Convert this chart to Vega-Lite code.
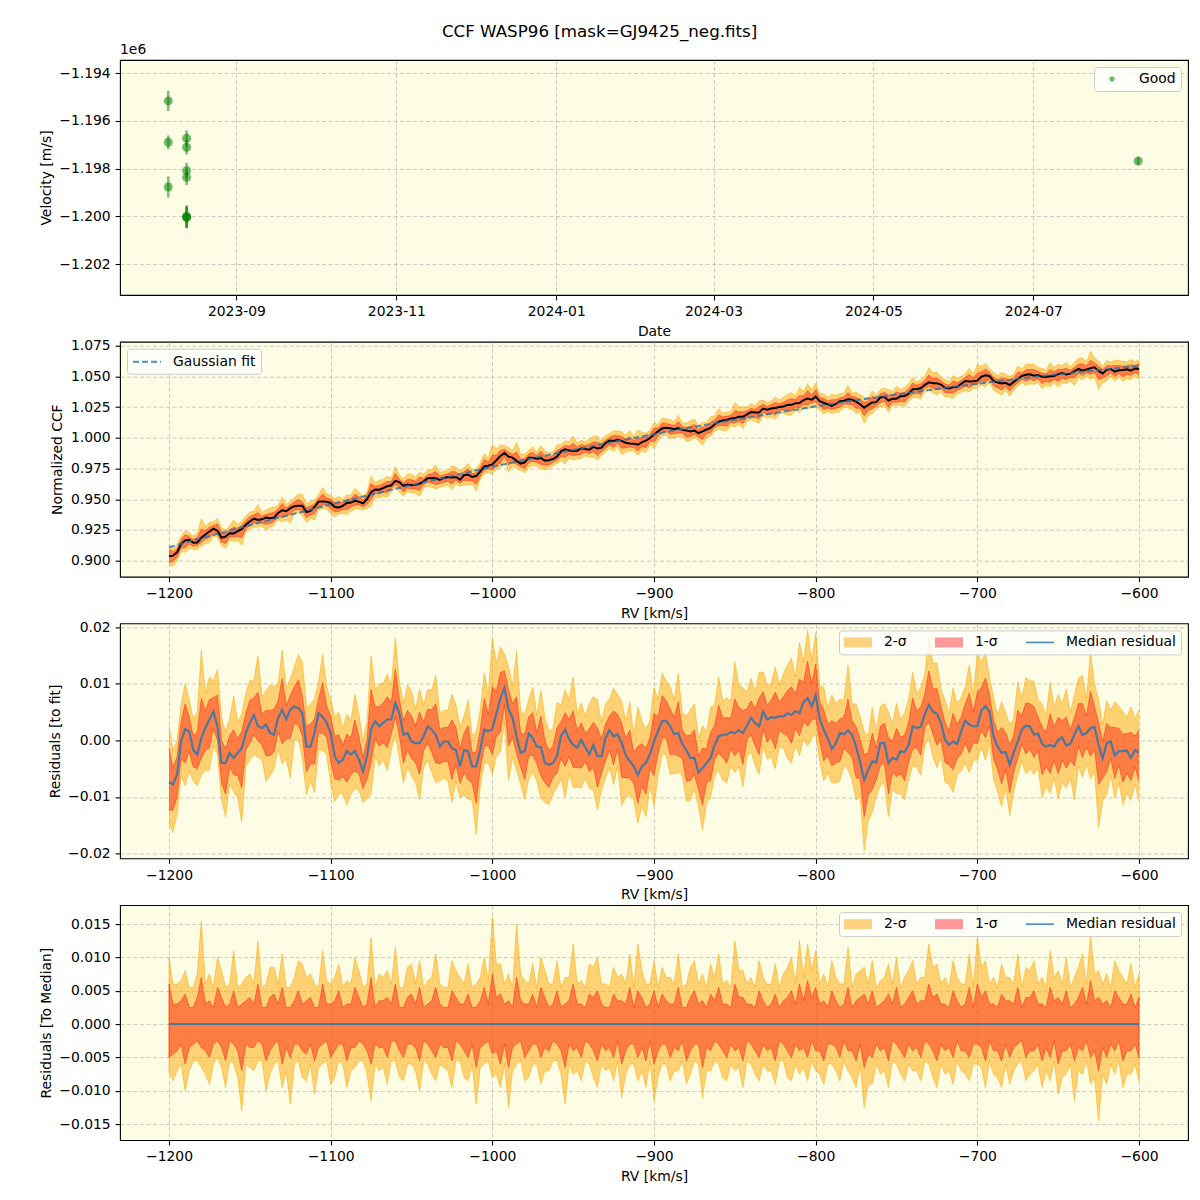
{
"$schema":"https://vega.github.io/schema/vega-lite/v6.json",
"padding":{"left":38,"top":23,"right":5,"bottom":5},
"background":"white",
"title":{"text":"CCF WASP96 [mask=GJ9425_neg.fits]","fontSize":16.7,"fontWeight":"normal","font":"DejaVu Sans","color":"black","anchor":"middle","offset":2,"dx":-14},
"bounds":"flush",
"spacing":46.7,
"resolve":{"scale":{"color":"independent","fill":"independent","shape":"independent"},"legend":{"color":"independent","fill":"independent","shape":"independent"}},
"config":{
 "font":"DejaVu Sans",
 "view":{"fill":"#fdfce4","stroke":"black","strokeWidth":1.1},
 "axis":{"labelFont":"DejaVu Sans","labelFontSize":13.9,"labelColor":"black","titleFont":"DejaVu Sans","titleFontSize":13.9,"titleFontWeight":"normal","titleColor":"black","tickColor":"black","tickSize":4.9,"tickWidth":1.1,"labelPadding":4.9,"titlePadding":5.6,"domain":false,"grid":true,"gridColor":"#b0b0b0","gridOpacity":0.7,"gridDash":[4,2.5],"gridWidth":0.9,"labelFlush":false,"labelOverlap":false,"tickCount":50},
 "legend":{"labelFont":"DejaVu Sans","labelFontSize":13.9,"labelColor":"black","fillColor":"rgba(255,255,255,0.8)","strokeColor":"#cccccc","cornerRadius":3,"padding":5,"offset":7}
},
"datasets":{
"rvs":[
{"date":"2023-08-06","v":-1195170,"e":420,"status":"Good"},
{"date":"2023-08-06","v":-1196900,"e":290,"status":"Good"},
{"date":"2023-08-06","v":-1198775,"e":445,"status":"Good"},
{"date":"2023-08-13","v":-1196735,"e":330,"status":"Good"},
{"date":"2023-08-13","v":-1197110,"e":300,"status":"Good"},
{"date":"2023-08-13","v":-1198090,"e":330,"status":"Good"},
{"date":"2023-08-13","v":-1198370,"e":330,"status":"Good"},
{"date":"2023-08-13","v":-1200000,"e":460,"status":"Good"},
{"date":"2023-08-13","v":-1200030,"e":450,"status":"Good"},
{"date":"2023-08-13","v":-1200060,"e":440,"status":"Good"},
{"date":"2024-08-10","v":-1197686,"e":170,"status":"Good"}
],
"fit":[
{"rv":-1200,"f":0.911},{"rv":-1175,"f":0.9201},{"rv":-1150,"f":0.9289},{"rv":-1125,"f":0.9374},{"rv":-1100,"f":0.9457},{"rv":-1075,"f":0.9538},{"rv":-1050,"f":0.9616},{"rv":-1025,"f":0.9691},{"rv":-1000,"f":0.9764},{"rv":-975,"f":0.9834},{"rv":-950,"f":0.9902},{"rv":-925,"f":0.9967},{"rv":-900,"f":1.003},{"rv":-875,"f":1.009},{"rv":-850,"f":1.0148},{"rv":-825,"f":1.0203},{"rv":-800,"f":1.0256},{"rv":-775,"f":1.0306},{"rv":-750,"f":1.0353},{"rv":-725,"f":1.0398},{"rv":-700,"f":1.0441},{"rv":-675,"f":1.0481},{"rv":-650,"f":1.0518},{"rv":-625,"f":1.0553},{"rv":-600,"f":1.0585}
],
"leg":[{"lab":"2-σ"},{"lab":"1-σ"},{"lab":"Median residual"}],
"r":[
{"rv":-1200,"m":-0.0074,"c":0.9036,"u1":0.006,"l1":-0.005,"u2":0.01,"l2":-0.0072},
{"rv":-1197.5,"m":-0.0078,"c":0.9041,"u1":0.003,"l1":-0.0045,"u2":0.006,"l2":-0.0085},
{"rv":-1195,"m":-0.006,"c":0.9068,"u1":0.003,"l1":-0.004,"u2":0.006,"l2":-0.007},
{"rv":-1192.5,"m":-0.0002,"c":0.9135,"u1":0.0035,"l1":-0.003,"u2":0.0065,"l2":-0.006},
{"rv":-1190,"m":0.002,"c":0.9166,"u1":0.0045,"l1":-0.006,"u2":0.008,"l2":-0.01},
{"rv":-1187.5,"m":0.0016,"c":0.9171,"u1":0.0025,"l1":-0.0035,"u2":0.0055,"l2":-0.007},
{"rv":-1185,"m":-0.0017,"c":0.9147,"u1":0.0025,"l1":-0.003,"u2":0.0055,"l2":-0.0055},
{"rv":-1182.5,"m":-0.0025,"c":0.9149,"u1":0.004,"l1":-0.0025,"u2":0.0075,"l2":-0.0055},
{"rv":-1180,"m":0.0004,"c":0.9187,"u1":0.007,"l1":-0.0035,"u2":0.0155,"l2":-0.0065},
{"rv":-1177.5,"m":0.0022,"c":0.9214,"u1":0.003,"l1":-0.004,"u2":0.006,"l2":-0.0075},
{"rv":-1175,"m":0.0037,"c":0.9238,"u1":0.0035,"l1":-0.005,"u2":0.0075,"l2":-0.009},
{"rv":-1172.5,"m":0.0051,"c":0.9261,"u1":0.0025,"l1":-0.003,"u2":0.0055,"l2":-0.006},
{"rv":-1170,"m":0.0025,"c":0.9243,"u1":0.0055,"l1":-0.0025,"u2":0.01,"l2":-0.005},
{"rv":-1167.5,"m":-0.004,"c":0.9187,"u1":0.004,"l1":-0.0035,"u2":0.008,"l2":-0.0065},
{"rv":-1165,"m":-0.004,"c":0.9196,"u1":0.0025,"l1":-0.0055,"u2":0.0055,"l2":-0.0095},
{"rv":-1162.5,"m":-0.0022,"c":0.9223,"u1":0.003,"l1":-0.0025,"u2":0.006,"l2":-0.0055},
{"rv":-1160,"m":-0.0031,"c":0.9222,"u1":0.005,"l1":-0.003,"u2":0.011,"l2":-0.006},
{"rv":-1157.5,"m":-0.0022,"c":0.924,"u1":0.0025,"l1":-0.004,"u2":0.0055,"l2":-0.008},
{"rv":-1155,"m":-0.0014,"c":0.9257,"u1":0.003,"l1":-0.007,"u2":0.006,"l2":-0.013},
{"rv":-1152.5,"m":0.0013,"c":0.9293,"u1":0.0035,"l1":-0.003,"u2":0.007,"l2":-0.006},
{"rv":-1150,"m":0.0031,"c":0.932,"u1":0.004,"l1":-0.0035,"u2":0.0075,"l2":-0.0065},
{"rv":-1147.5,"m":0.0045,"c":0.9343,"u1":0.003,"l1":-0.0035,"u2":0.006,"l2":-0.007},
{"rv":-1145,"m":0.0025,"c":0.9331,"u1":0.006,"l1":-0.0025,"u2":0.0125,"l2":-0.0055},
{"rv":-1142.5,"m":0.0022,"c":0.9337,"u1":0.0025,"l1":-0.003,"u2":0.0055,"l2":-0.0055},
{"rv":-1140,"m":0.0028,"c":0.9351,"u1":0.0025,"l1":-0.0055,"u2":0.006,"l2":-0.01},
{"rv":-1137.5,"m":0.0013,"c":0.9345,"u1":0.004,"l1":-0.004,"u2":0.0085,"l2":-0.0075},
{"rv":-1135,"m":0.001,"c":0.935,"u1":0.0045,"l1":-0.003,"u2":0.0085,"l2":-0.006},
{"rv":-1132.5,"m":0.004,"c":0.9389,"u1":0.003,"l1":-0.0025,"u2":0.006,"l2":-0.0055},
{"rv":-1130,"m":0.0054,"c":0.9411,"u1":0.0055,"l1":-0.006,"u2":0.0105,"l2":-0.0095},
{"rv":-1127.5,"m":0.0037,"c":0.9403,"u1":0.0025,"l1":-0.0035,"u2":0.0055,"l2":-0.007},
{"rv":-1125,"m":0.0054,"c":0.9428,"u1":0.0025,"l1":-0.005,"u2":0.0055,"l2":-0.012},
{"rv":-1122.5,"m":0.006,"c":0.9443,"u1":0.0035,"l1":-0.003,"u2":0.007,"l2":-0.006},
{"rv":-1120,"m":0.0057,"c":0.9448,"u1":0.005,"l1":-0.003,"u2":0.0095,"l2":-0.0055},
{"rv":-1117.5,"m":0.0048,"c":0.9447,"u1":0.003,"l1":-0.004,"u2":0.009,"l2":-0.008},
{"rv":-1115,"m":-0.0011,"c":0.9396,"u1":0.0035,"l1":-0.0045,"u2":0.007,"l2":-0.0085},
{"rv":-1112.5,"m":-0.0011,"c":0.9405,"u1":0.004,"l1":-0.003,"u2":0.0075,"l2":-0.006},
{"rv":-1110,"m":0.0013,"c":0.9437,"u1":0.0025,"l1":-0.0055,"u2":0.006,"l2":-0.0105},
{"rv":-1107.5,"m":0.0048,"c":0.9481,"u1":0.0025,"l1":-0.0035,"u2":0.0055,"l2":-0.0065},
{"rv":-1105,"m":0.0042,"c":0.9483,"u1":0.006,"l1":-0.003,"u2":0.011,"l2":-0.006},
{"rv":-1102.5,"m":0.0031,"c":0.948,"u1":0.003,"l1":-0.0025,"u2":0.0065,"l2":-0.0055},
{"rv":-1100,"m":0.0013,"c":0.947,"u1":0.003,"l1":-0.005,"u2":0.006,"l2":-0.009},
{"rv":-1097.5,"m":-0.0028,"c":0.9437,"u1":0.0035,"l1":-0.004,"u2":0.007,"l2":-0.008},
{"rv":-1095,"m":-0.004,"c":0.9433,"u1":0.005,"l1":-0.003,"u2":0.009,"l2":-0.0055},
{"rv":-1092.5,"m":-0.0034,"c":0.9447,"u1":0.0025,"l1":-0.003,"u2":0.0055,"l2":-0.006},
{"rv":-1090,"m":-0.0019,"c":0.947,"u1":0.003,"l1":-0.0055,"u2":0.0065,"l2":-0.0095},
{"rv":-1087.5,"m":-0.0025,"c":0.9473,"u1":0.003,"l1":-0.0035,"u2":0.006,"l2":-0.007},
{"rv":-1085,"m":-0.0019,"c":0.9487,"u1":0.0055,"l1":-0.0035,"u2":0.01,"l2":-0.0065},
{"rv":-1082.5,"m":-0.0034,"c":0.948,"u1":0.004,"l1":-0.0025,"u2":0.008,"l2":-0.0055},
{"rv":-1080,"m":-0.0055,"c":0.9467,"u1":0.0025,"l1":-0.003,"u2":0.0055,"l2":-0.0055},
{"rv":-1077.5,"m":-0.0028,"c":0.9502,"u1":0.003,"l1":-0.004,"u2":0.006,"l2":-0.0075},
{"rv":-1075,"m":0.002,"c":0.9558,"u1":0.007,"l1":-0.006,"u2":0.013,"l2":-0.0115},
{"rv":-1072.5,"m":0.0034,"c":0.958,"u1":0.0025,"l1":-0.003,"u2":0.0055,"l2":-0.006},
{"rv":-1070,"m":0.0025,"c":0.9578,"u1":0.0035,"l1":-0.0035,"u2":0.0075,"l2":-0.007},
{"rv":-1067.5,"m":0.0031,"c":0.9592,"u1":0.0035,"l1":-0.0035,"u2":0.007,"l2":-0.0065},
{"rv":-1065,"m":0.0037,"c":0.9606,"u1":0.004,"l1":-0.005,"u2":0.008,"l2":-0.009},
{"rv":-1062.5,"m":0.0037,"c":0.9614,"u1":0.003,"l1":-0.0025,"u2":0.006,"l2":-0.0055},
{"rv":-1060,"m":0.0066,"c":0.965,"u1":0.006,"l1":-0.0025,"u2":0.0115,"l2":-0.0055},
{"rv":-1057.5,"m":0.0048,"c":0.964,"u1":0.0025,"l1":-0.004,"u2":0.0055,"l2":-0.008},
{"rv":-1055,"m":0.001,"c":0.961,"u1":0.0025,"l1":-0.005,"u2":0.0055,"l2":-0.0085},
{"rv":-1052.5,"m":0.0013,"c":0.9621,"u1":0.004,"l1":-0.003,"u2":0.0085,"l2":-0.006},
{"rv":-1050,"m":-0.0002,"c":0.9614,"u1":0.0045,"l1":-0.003,"u2":0.009,"l2":-0.006},
{"rv":-1047.5,"m":-0.0005,"c":0.9619,"u1":0.003,"l1":-0.0035,"u2":0.006,"l2":-0.007},
{"rv":-1045,"m":-0.0005,"c":0.9626,"u1":0.0055,"l1":-0.0055,"u2":0.0095,"l2":-0.01},
{"rv":-1042.5,"m":0.0007,"c":0.9646,"u1":0.0025,"l1":-0.0025,"u2":0.0055,"l2":-0.0055},
{"rv":-1040,"m":0.0025,"c":0.9671,"u1":0.003,"l1":-0.003,"u2":0.0065,"l2":-0.006},
{"rv":-1037.5,"m":0.0019,"c":0.9673,"u1":0.0035,"l1":-0.004,"u2":0.007,"l2":-0.0075},
{"rv":-1035,"m":0.001,"c":0.9671,"u1":0.0055,"l1":-0.005,"u2":0.0105,"l2":-0.0085},
{"rv":-1032.5,"m":-0.0011,"c":0.9658,"u1":0.003,"l1":-0.003,"u2":0.006,"l2":-0.006},
{"rv":-1030,"m":-0.0002,"c":0.9674,"u1":0.0025,"l1":-0.0035,"u2":0.0055,"l2":-0.0065},
{"rv":-1027.5,"m":-0.0002,"c":0.9682,"u1":0.0025,"l1":-0.0035,"u2":0.0055,"l2":-0.007},
{"rv":-1025,"m":-0.0014,"c":0.9677,"u1":0.005,"l1":-0.0055,"u2":0.0095,"l2":-0.0095},
{"rv":-1022.5,"m":-0.0017,"c":0.9682,"u1":0.004,"l1":-0.0025,"u2":0.008,"l2":-0.0055},
{"rv":-1020,"m":-0.0046,"c":0.966,"u1":0.003,"l1":-0.003,"u2":0.007,"l2":-0.0055},
{"rv":-1017.5,"m":-0.0017,"c":0.9696,"u1":0.003,"l1":-0.004,"u2":0.006,"l2":-0.008},
{"rv":-1015,"m":-0.0019,"c":0.9701,"u1":0.0045,"l1":-0.005,"u2":0.009,"l2":-0.0085},
{"rv":-1012.5,"m":-0.0046,"c":0.9682,"u1":0.0025,"l1":-0.003,"u2":0.0055,"l2":-0.006},
{"rv":-1010,"m":-0.0046,"c":0.9689,"u1":0.0025,"l1":-0.0065,"u2":0.006,"l2":-0.012},
{"rv":-1007.5,"m":-0.0017,"c":0.9725,"u1":0.0035,"l1":-0.0035,"u2":0.007,"l2":-0.0065},
{"rv":-1005,"m":0.0019,"c":0.9768,"u1":0.0055,"l1":-0.003,"u2":0.01,"l2":-0.006},
{"rv":-1002.5,"m":0.0016,"c":0.9773,"u1":0.003,"l1":-0.0025,"u2":0.0065,"l2":-0.0055},
{"rv":-1000,"m":0.002,"c":0.9784,"u1":0.0075,"l1":-0.0045,"u2":0.016,"l2":-0.008},
{"rv":-997.5,"m":0.0047,"c":0.9818,"u1":0.004,"l1":-0.004,"u2":0.009,"l2":-0.0075},
{"rv":-995,"m":0.0075,"c":0.9853,"u1":0.0045,"l1":-0.006,"u2":0.009,"l2":-0.0095},
{"rv":-992.5,"m":0.0093,"c":0.9878,"u1":0.003,"l1":-0.003,"u2":0.006,"l2":-0.006},
{"rv":-990,"m":0.0055,"c":0.9847,"u1":0.0035,"l1":-0.0065,"u2":0.0075,"l2":-0.0125},
{"rv":-987.5,"m":0.004,"c":0.9839,"u1":0.0025,"l1":-0.0035,"u2":0.0055,"l2":-0.007},
{"rv":-985,"m":0.0007,"c":0.9813,"u1":0.007,"l1":-0.003,"u2":0.015,"l2":-0.006},
{"rv":-982.5,"m":-0.0022,"c":0.9791,"u1":0.0035,"l1":-0.0025,"u2":0.0075,"l2":-0.0055},
{"rv":-980,"m":-0.0019,"c":0.9801,"u1":0.003,"l1":-0.005,"u2":0.0065,"l2":-0.0085},
{"rv":-977.5,"m":0.0012,"c":0.9839,"u1":0.003,"l1":-0.004,"u2":0.006,"l2":-0.008},
{"rv":-975,"m":0.0004,"c":0.9838,"u1":0.0045,"l1":-0.003,"u2":0.009,"l2":-0.006},
{"rv":-972.5,"m":-0.0011,"c":0.983,"u1":0.0025,"l1":-0.003,"u2":0.0055,"l2":-0.006},
{"rv":-970,"m":-0.0012,"c":0.9836,"u1":0.0055,"l1":-0.005,"u2":0.01,"l2":-0.009},
{"rv":-967.5,"m":-0.004,"c":0.9815,"u1":0.004,"l1":-0.0035,"u2":0.008,"l2":-0.007},
{"rv":-965,"m":-0.0043,"c":0.9818,"u1":0.0025,"l1":-0.004,"u2":0.006,"l2":-0.007},
{"rv":-962.5,"m":-0.004,"c":0.9828,"u1":0.003,"l1":-0.0025,"u2":0.006,"l2":-0.0055},
{"rv":-960,"m":-0.0028,"c":0.9847,"u1":0.005,"l1":-0.003,"u2":0.0095,"l2":-0.0055},
{"rv":-957.5,"m":0.0008,"c":0.989,"u1":0.0025,"l1":-0.004,"u2":0.0055,"l2":-0.0075},
{"rv":-955,"m":0.0019,"c":0.9907,"u1":0.003,"l1":-0.0065,"u2":0.007,"l2":-0.012},
{"rv":-952.5,"m":0.0002,"c":0.9897,"u1":0.0035,"l1":-0.003,"u2":0.007,"l2":-0.006},
{"rv":-950,"m":-0.0008,"c":0.9894,"u1":0.006,"l1":-0.004,"u2":0.012,"l2":-0.0075},
{"rv":-947.5,"m":-0.0013,"c":0.9896,"u1":0.003,"l1":-0.0035,"u2":0.006,"l2":-0.007},
{"rv":-945,"m":0.0001,"c":0.9916,"u1":0.003,"l1":-0.005,"u2":0.0065,"l2":-0.0085},
{"rv":-942.5,"m":-0.0012,"c":0.991,"u1":0.0025,"l1":-0.0025,"u2":0.0055,"l2":-0.0055},
{"rv":-940,"m":-0.0025,"c":0.9903,"u1":0.0045,"l1":-0.003,"u2":0.009,"l2":-0.006},
{"rv":-937.5,"m":-0.0008,"c":0.9927,"u1":0.004,"l1":-0.004,"u2":0.0085,"l2":-0.008},
{"rv":-935,"m":-0.0028,"c":0.9913,"u1":0.005,"l1":-0.0055,"u2":0.01,"l2":-0.0095},
{"rv":-932.5,"m":-0.0028,"c":0.992,"u1":0.003,"l1":-0.003,"u2":0.006,"l2":-0.006},
{"rv":-930,"m":0.0004,"c":0.9958,"u1":0.0025,"l1":-0.004,"u2":0.006,"l2":-0.007},
{"rv":-927.5,"m":0.0018,"c":0.9979,"u1":0.0025,"l1":-0.0035,"u2":0.0055,"l2":-0.0065},
{"rv":-925,"m":0.0007,"c":0.9974,"u1":0.0045,"l1":-0.005,"u2":0.0085,"l2":-0.0085},
{"rv":-922.5,"m":0.0011,"c":0.9985,"u1":0.0035,"l1":-0.0025,"u2":0.007,"l2":-0.0055},
{"rv":-920,"m":-0.0005,"c":0.9975,"u1":0.0035,"l1":-0.006,"u2":0.0075,"l2":-0.011},
{"rv":-917.5,"m":-0.0026,"c":0.996,"u1":0.003,"l1":-0.004,"u2":0.006,"l2":-0.0075},
{"rv":-915,"m":-0.0037,"c":0.9955,"u1":0.0055,"l1":-0.003,"u2":0.0105,"l2":-0.006},
{"rv":-912.5,"m":-0.0046,"c":0.9953,"u1":0.0025,"l1":-0.003,"u2":0.0055,"l2":-0.006},
{"rv":-910,"m":-0.0061,"c":0.9944,"u1":0.005,"l1":-0.005,"u2":0.012,"l2":-0.0085},
{"rv":-907.5,"m":-0.0046,"c":0.9965,"u1":0.004,"l1":-0.0035,"u2":0.008,"l2":-0.007},
{"rv":-905,"m":-0.004,"c":0.9977,"u1":0.0025,"l1":-0.0055,"u2":0.006,"l2":-0.0095},
{"rv":-902.5,"m":-0.0025,"c":0.9999,"u1":0.003,"l1":-0.0025,"u2":0.006,"l2":-0.0055},
{"rv":-900,"m":-0.0002,"c":1.0028,"u1":0.005,"l1":-0.006,"u2":0.0095,"l2":-0.0115},
{"rv":-897.5,"m":0.0017,"c":1.0053,"u1":0.0025,"l1":-0.004,"u2":0.0055,"l2":-0.008},
{"rv":-895,"m":0.0034,"c":1.0076,"u1":0.0045,"l1":-0.003,"u2":0.0085,"l2":-0.006},
{"rv":-892.5,"m":0.0035,"c":1.0083,"u1":0.0035,"l1":-0.003,"u2":0.007,"l2":-0.006},
{"rv":-890,"m":0.0025,"c":1.0079,"u1":0.003,"l1":-0.005,"u2":0.007,"l2":-0.0085},
{"rv":-887.5,"m":0.0011,"c":1.0071,"u1":0.003,"l1":-0.0035,"u2":0.006,"l2":-0.007},
{"rv":-885,"m":0.0013,"c":1.0079,"u1":0.0055,"l1":-0.004,"u2":0.0105,"l2":-0.007},
{"rv":-882.5,"m":-0.0007,"c":1.0065,"u1":0.0025,"l1":-0.0025,"u2":0.0055,"l2":-0.0055},
{"rv":-880,"m":-0.0017,"c":1.0061,"u1":0.0025,"l1":-0.0055,"u2":0.006,"l2":-0.009},
{"rv":-877.5,"m":-0.0031,"c":1.0053,"u1":0.004,"l1":-0.004,"u2":0.0085,"l2":-0.0075},
{"rv":-875,"m":-0.0031,"c":1.0059,"u1":0.005,"l1":-0.003,"u2":0.0095,"l2":-0.0055},
{"rv":-872.5,"m":-0.0057,"c":1.0039,"u1":0.003,"l1":-0.003,"u2":0.006,"l2":-0.006},
{"rv":-870,"m":-0.0049,"c":1.0053,"u1":0.0035,"l1":-0.0065,"u2":0.0075,"l2":-0.011},
{"rv":-867.5,"m":-0.004,"c":1.0068,"u1":0.0025,"l1":-0.0035,"u2":0.0055,"l2":-0.007},
{"rv":-865,"m":-0.0031,"c":1.0082,"u1":0.0045,"l1":-0.004,"u2":0.009,"l2":-0.007},
{"rv":-862.5,"m":-0.0008,"c":1.0111,"u1":0.0035,"l1":-0.0025,"u2":0.007,"l2":-0.0055},
{"rv":-860,"m":0.0007,"c":1.0132,"u1":0.0055,"l1":-0.003,"u2":0.0105,"l2":-0.006},
{"rv":-857.5,"m":0.001,"c":1.0141,"u1":0.003,"l1":-0.004,"u2":0.006,"l2":-0.008},
{"rv":-855,"m":0.001,"c":1.0146,"u1":0.003,"l1":-0.005,"u2":0.0065,"l2":-0.0085},
{"rv":-852.5,"m":0.0015,"c":1.0157,"u1":0.0025,"l1":-0.003,"u2":0.0055,"l2":-0.006},
{"rv":-850,"m":0.0013,"c":1.0161,"u1":0.006,"l1":-0.004,"u2":0.0125,"l2":-0.007},
{"rv":-847.5,"m":0.0018,"c":1.0172,"u1":0.004,"l1":-0.0035,"u2":0.008,"l2":-0.0065},
{"rv":-845,"m":0.0013,"c":1.0172,"u1":0.004,"l1":-0.0055,"u2":0.008,"l2":-0.0095},
{"rv":-842.5,"m":0.0026,"c":1.0191,"u1":0.003,"l1":-0.0025,"u2":0.006,"l2":-0.0055},
{"rv":-840,"m":0.004,"c":1.021,"u1":0.003,"l1":-0.003,"u2":0.007,"l2":-0.006},
{"rv":-837.5,"m":0.0031,"c":1.0207,"u1":0.0025,"l1":-0.004,"u2":0.0055,"l2":-0.0075},
{"rv":-835,"m":0.0025,"c":1.0206,"u1":0.005,"l1":-0.005,"u2":0.0095,"l2":-0.0085},
{"rv":-832.5,"m":0.0051,"c":1.0238,"u1":0.0035,"l1":-0.003,"u2":0.007,"l2":-0.006},
{"rv":-830,"m":0.0037,"c":1.0229,"u1":0.0025,"l1":-0.004,"u2":0.006,"l2":-0.007},
{"rv":-827.5,"m":0.0041,"c":1.0239,"u1":0.003,"l1":-0.0035,"u2":0.006,"l2":-0.007},
{"rv":-825,"m":0.004,"c":1.0243,"u1":0.0045,"l1":-0.0055,"u2":0.009,"l2":-0.009},
{"rv":-822.5,"m":0.0043,"c":1.0252,"u1":0.0025,"l1":-0.0025,"u2":0.0055,"l2":-0.0055},
{"rv":-820,"m":0.0042,"c":1.0256,"u1":0.0035,"l1":-0.003,"u2":0.0075,"l2":-0.0055},
{"rv":-817.5,"m":0.0048,"c":1.0267,"u1":0.004,"l1":-0.004,"u2":0.0085,"l2":-0.008},
{"rv":-815,"m":0.0045,"c":1.0269,"u1":0.005,"l1":-0.005,"u2":0.01,"l2":-0.0085},
{"rv":-812.5,"m":0.0052,"c":1.0282,"u1":0.003,"l1":-0.003,"u2":0.006,"l2":-0.006},
{"rv":-810,"m":0.0048,"c":1.0283,"u1":0.006,"l1":-0.004,"u2":0.0125,"l2":-0.0075},
{"rv":-807.5,"m":0.0068,"c":1.0308,"u1":0.0035,"l1":-0.0035,"u2":0.007,"l2":-0.0065},
{"rv":-805,"m":0.0075,"c":1.032,"u1":0.0065,"l1":-0.005,"u2":0.012,"l2":-0.0085},
{"rv":-802.5,"m":0.006,"c":1.0311,"u1":0.004,"l1":-0.0025,"u2":0.008,"l2":-0.0055},
{"rv":-800,"m":0.008,"c":1.0336,"u1":0.0055,"l1":-0.004,"u2":0.011,"l2":-0.007},
{"rv":-797.5,"m":0.0038,"c":1.0299,"u1":0.003,"l1":-0.004,"u2":0.006,"l2":-0.0075},
{"rv":-795,"m":0.0019,"c":1.0285,"u1":0.0035,"l1":-0.0055,"u2":0.0075,"l2":-0.009},
{"rv":-792.5,"m":0.0003,"c":1.0274,"u1":0.0025,"l1":-0.003,"u2":0.0055,"l2":-0.006},
{"rv":-790,"m":-0.0015,"c":1.0261,"u1":0.005,"l1":-0.003,"u2":0.0095,"l2":-0.006},
{"rv":-787.5,"m":-0.0005,"c":1.0276,"u1":0.0035,"l1":-0.0035,"u2":0.007,"l2":-0.007},
{"rv":-785,"m":0.0013,"c":1.0299,"u1":0.0025,"l1":-0.005,"u2":0.006,"l2":-0.0085},
{"rv":-782.5,"m":0.0011,"c":1.0302,"u1":0.003,"l1":-0.0025,"u2":0.006,"l2":-0.0055},
{"rv":-780,"m":0.0018,"c":1.0314,"u1":0.0055,"l1":-0.004,"u2":0.0115,"l2":-0.007},
{"rv":-777.5,"m":0.001,"c":1.0311,"u1":0.0025,"l1":-0.004,"u2":0.0055,"l2":-0.008},
{"rv":-775,"m":-0.0011,"c":1.0295,"u1":0.0035,"l1":-0.0055,"u2":0.0075,"l2":-0.0095},
{"rv":-772.5,"m":-0.0038,"c":1.0273,"u1":0.004,"l1":-0.003,"u2":0.008,"l2":-0.006},
{"rv":-770,"m":-0.007,"c":1.0245,"u1":0.0045,"l1":-0.0065,"u2":0.0085,"l2":-0.0125},
{"rv":-767.5,"m":-0.0052,"c":1.0268,"u1":0.003,"l1":-0.0045,"u2":0.006,"l2":-0.009},
{"rv":-765,"m":-0.0037,"c":1.0288,"u1":0.005,"l1":-0.005,"u2":0.0095,"l2":-0.009},
{"rv":-762.5,"m":-0.0039,"c":1.0291,"u1":0.0025,"l1":-0.003,"u2":0.0055,"l2":-0.006},
{"rv":-760,"m":-0.0005,"c":1.0329,"u1":0.003,"l1":-0.004,"u2":0.0065,"l2":-0.0075},
{"rv":-757.5,"m":-0.0005,"c":1.0334,"u1":0.0035,"l1":-0.0035,"u2":0.007,"l2":-0.007},
{"rv":-755,"m":-0.004,"c":1.0304,"u1":0.0045,"l1":-0.0055,"u2":0.009,"l2":-0.0095},
{"rv":-752.5,"m":-0.0031,"c":1.0318,"u1":0.003,"l1":-0.0025,"u2":0.006,"l2":-0.0055},
{"rv":-750,"m":-0.0034,"c":1.0319,"u1":0.0055,"l1":-0.003,"u2":0.01,"l2":-0.006},
{"rv":-747.5,"m":-0.0019,"c":1.0339,"u1":0.0025,"l1":-0.004,"u2":0.0055,"l2":-0.0075},
{"rv":-745,"m":-0.0021,"c":1.0341,"u1":0.003,"l1":-0.005,"u2":0.007,"l2":-0.0085},
{"rv":-742.5,"m":-0.0008,"c":1.0359,"u1":0.004,"l1":-0.003,"u2":0.008,"l2":-0.006},
{"rv":-740,"m":0.0025,"c":1.0396,"u1":0.005,"l1":-0.004,"u2":0.0095,"l2":-0.007},
{"rv":-737.5,"m":0.0022,"c":1.0398,"u1":0.003,"l1":-0.0035,"u2":0.006,"l2":-0.007},
{"rv":-735,"m":0.0024,"c":1.0404,"u1":0.0035,"l1":-0.005,"u2":0.007,"l2":-0.0085},
{"rv":-732.5,"m":0.0047,"c":1.0432,"u1":0.0035,"l1":-0.0025,"u2":0.007,"l2":-0.0055},
{"rv":-730,"m":0.0063,"c":1.0452,"u1":0.006,"l1":-0.003,"u2":0.012,"l2":-0.006},
{"rv":-727.5,"m":0.0051,"c":1.0445,"u1":0.004,"l1":-0.004,"u2":0.0085,"l2":-0.008},
{"rv":-725,"m":0.0047,"c":1.0445,"u1":0.0045,"l1":-0.0055,"u2":0.009,"l2":-0.0095},
{"rv":-722.5,"m":0.0031,"c":1.0434,"u1":0.003,"l1":-0.003,"u2":0.006,"l2":-0.006},
{"rv":-720,"m":0.0001,"c":1.0408,"u1":0.003,"l1":-0.004,"u2":0.007,"l2":-0.0075},
{"rv":-717.5,"m":-0.0008,"c":1.0403,"u1":0.0025,"l1":-0.0035,"u2":0.0055,"l2":-0.007},
{"rv":-715,"m":-0.0002,"c":1.0413,"u1":0.005,"l1":-0.005,"u2":0.0095,"l2":-0.009},
{"rv":-712.5,"m":-0.0006,"c":1.0414,"u1":0.0035,"l1":-0.0025,"u2":0.007,"l2":-0.0055},
{"rv":-710,"m":0.0016,"c":1.044,"u1":0.0025,"l1":-0.004,"u2":0.006,"l2":-0.007},
{"rv":-707.5,"m":0.0035,"c":1.0463,"u1":0.003,"l1":-0.004,"u2":0.006,"l2":-0.0075},
{"rv":-705,"m":0.0028,"c":1.046,"u1":0.0055,"l1":-0.005,"u2":0.0105,"l2":-0.0085},
{"rv":-702.5,"m":0.0025,"c":1.0462,"u1":0.0025,"l1":-0.003,"u2":0.0055,"l2":-0.006},
{"rv":-700,"m":0.0025,"c":1.0466,"u1":0.006,"l1":-0.003,"u2":0.013,"l2":-0.006},
{"rv":-697.5,"m":0.0053,"c":1.0498,"u1":0.004,"l1":-0.0035,"u2":0.0085,"l2":-0.0065},
{"rv":-695,"m":0.006,"c":1.0509,"u1":0.005,"l1":-0.0055,"u2":0.0095,"l2":-0.0095},
{"rv":-692.5,"m":0.0051,"c":1.0504,"u1":0.003,"l1":-0.0025,"u2":0.006,"l2":-0.0055},
{"rv":-690,"m":0.0007,"c":1.0464,"u1":0.003,"l1":-0.004,"u2":0.007,"l2":-0.0075},
{"rv":-687.5,"m":-0.0011,"c":1.045,"u1":0.0025,"l1":-0.004,"u2":0.0055,"l2":-0.008},
{"rv":-685,"m":-0.0022,"c":1.0443,"u1":0.0045,"l1":-0.0055,"u2":0.009,"l2":-0.0095},
{"rv":-682.5,"m":-0.0021,"c":1.0448,"u1":0.0035,"l1":-0.003,"u2":0.007,"l2":-0.006},
{"rv":-680,"m":-0.0043,"c":1.043,"u1":0.0035,"l1":-0.005,"u2":0.007,"l2":-0.009},
{"rv":-677.5,"m":-0.0021,"c":1.0456,"u1":0.003,"l1":-0.0035,"u2":0.006,"l2":-0.007},
{"rv":-675,"m":-0.0002,"c":1.0479,"u1":0.0055,"l1":-0.003,"u2":0.0105,"l2":-0.006},
{"rv":-672.5,"m":0.0019,"c":1.0504,"u1":0.0025,"l1":-0.0025,"u2":0.0055,"l2":-0.0055},
{"rv":-670,"m":0.0026,"c":1.0514,"u1":0.004,"l1":-0.005,"u2":0.0085,"l2":-0.0085},
{"rv":-667.5,"m":0.0025,"c":1.0517,"u1":0.004,"l1":-0.004,"u2":0.008,"l2":-0.0075},
{"rv":-665,"m":0.001,"c":1.0506,"u1":0.005,"l1":-0.004,"u2":0.0095,"l2":-0.007},
{"rv":-662.5,"m":0.0012,"c":1.0512,"u1":0.003,"l1":-0.003,"u2":0.006,"l2":-0.006},
{"rv":-660,"m":-0.0006,"c":1.0497,"u1":0.003,"l1":-0.0055,"u2":0.007,"l2":-0.0095},
{"rv":-657.5,"m":-0.0011,"c":1.0496,"u1":0.0025,"l1":-0.0035,"u2":0.0055,"l2":-0.007},
{"rv":-655,"m":-0.0008,"c":1.0502,"u1":0.0055,"l1":-0.005,"u2":0.011,"l2":-0.0085},
{"rv":-652.5,"m":-0.0011,"c":1.0503,"u1":0.0035,"l1":-0.0025,"u2":0.007,"l2":-0.0055},
{"rv":-650,"m":0.0001,"c":1.0519,"u1":0.004,"l1":-0.006,"u2":0.008,"l2":-0.0105},
{"rv":-647.5,"m":0.0005,"c":1.0527,"u1":0.003,"l1":-0.004,"u2":0.006,"l2":-0.008},
{"rv":-645,"m":-0.0009,"c":1.0516,"u1":0.005,"l1":-0.004,"u2":0.01,"l2":-0.0075},
{"rv":-642.5,"m":-0.0006,"c":1.0523,"u1":0.0025,"l1":-0.003,"u2":0.0055,"l2":-0.006},
{"rv":-640,"m":0.001,"c":1.0542,"u1":0.003,"l1":-0.0055,"u2":0.007,"l2":-0.0115},
{"rv":-637.5,"m":0.0025,"c":1.0561,"u1":0.004,"l1":-0.0035,"u2":0.0085,"l2":-0.007},
{"rv":-635,"m":0.001,"c":1.0549,"u1":0.0055,"l1":-0.004,"u2":0.0105,"l2":-0.0075},
{"rv":-632.5,"m":0.0013,"c":1.0556,"u1":0.003,"l1":-0.0025,"u2":0.006,"l2":-0.0055},
{"rv":-630,"m":0.0022,"c":1.0568,"u1":0.0065,"l1":-0.005,"u2":0.0135,"l2":-0.009},
{"rv":-627.5,"m":0.0024,"c":1.0574,"u1":0.0035,"l1":-0.004,"u2":0.0075,"l2":-0.008},
{"rv":-625,"m":-0.0008,"c":1.0545,"u1":0.004,"l1":-0.007,"u2":0.008,"l2":-0.0145},
{"rv":-622.5,"m":-0.0032,"c":1.0524,"u1":0.003,"l1":-0.0035,"u2":0.006,"l2":-0.0075},
{"rv":-620,"m":-0.0005,"c":1.0554,"u1":0.0035,"l1":-0.005,"u2":0.0075,"l2":-0.009},
{"rv":-617.5,"m":-0.0002,"c":1.0561,"u1":0.0025,"l1":-0.003,"u2":0.0055,"l2":-0.006},
{"rv":-615,"m":-0.0027,"c":1.0539,"u1":0.005,"l1":-0.004,"u2":0.0095,"l2":-0.0075},
{"rv":-612.5,"m":-0.0019,"c":1.055,"u1":0.004,"l1":-0.0025,"u2":0.008,"l2":-0.0055},
{"rv":-610,"m":-0.0019,"c":1.0553,"u1":0.003,"l1":-0.0055,"u2":0.007,"l2":-0.0095},
{"rv":-607.5,"m":-0.0018,"c":1.0558,"u1":0.003,"l1":-0.004,"u2":0.006,"l2":-0.0075},
{"rv":-605,"m":-0.0031,"c":1.0548,"u1":0.0045,"l1":-0.004,"u2":0.009,"l2":-0.0075},
{"rv":-602.5,"m":-0.0017,"c":1.0565,"u1":0.0025,"l1":-0.003,"u2":0.0055,"l2":-0.006},
{"rv":-600,"m":-0.0022,"c":1.0563,"u1":0.004,"l1":-0.005,"u2":0.0075,"l2":-0.0085}
]
},
"vconcat":[
{
 "width":1068,"height":235,
 "title":{"text":"1e6","anchor":"start","frame":"group","fontSize":13.9,"fontWeight":"normal","font":"DejaVu Sans","offset":3},
 "data":{"name":"rvs"},
 "encoding":{
  "x":{"field":"date","type":"temporal","title":"Date","scale":{"type":"utc","domain":[{"year":2023,"month":7,"date":18,"hours":14,"utc":true},{"year":2024,"month":8,"date":29,"utc":true}]},"axis":{"format":"%Y-%m","values":[{"year":2023,"month":9,"date":1,"utc":true},{"year":2023,"month":11,"date":1,"utc":true},{"year":2024,"month":1,"date":1,"utc":true},{"year":2024,"month":3,"date":1,"utc":true},{"year":2024,"month":5,"date":1,"utc":true},{"year":2024,"month":7,"date":1,"utc":true}]}},
  "y":{"field":"v","type":"quantitative","title":"Velocity [m/s]","scale":{"domain":[-1203298,-1193455],"nice":false,"zero":false},"axis":{"values":[-1202000,-1200000,-1198000,-1196000,-1194000],"labelExpr":"format(datum.value/1000000,'.3f')"}}
 },
 "layer":[
  {"mark":{"type":"errorbar","color":"green","opacity":0.5,"thickness":2.5},"encoding":{"yError":{"field":"e"}}},
  {"mark":{"type":"point","filled":true,"opacity":0.55,"size":80},"encoding":{"color":{"field":"status","type":"nominal","scale":{"range":["green"]},"legend":{"title":null,"orient":"top-right","symbolType":"M0.386,0A0.386,0.386 0 1,1 -0.386,0A0.386,0.386 0 1,1 0.386,0Z","symbolSize":196,"symbolOffset":6,"symbolOpacity":0.55,"symbolStrokeWidth":0,"labelOffset":20}}}}
 ]
},
{
 "width":1068,"height":235,
 "data":{"name":"r"},
 "encoding":{"x":{"field":"rv","type":"quantitative","title":"RV [km/s]","scale":{"domain":[-1230.3,-569.7],"nice":false,"zero":false},"axis":{"values":[-1200,-1100,-1000,-900,-800,-700,-600],"format":"d"}}},
 "layer":[
  {"mark":{"type":"errorband","color":"#ffa500","band":{"opacity":0.5},"borders":{"opacity":0.5,"strokeWidth":1}},"encoding":{"y":{"field":"c","type":"quantitative","title":"Normalized CCF","scale":{"domain":[0.88698,1.0783],"nice":false,"zero":false},"axis":{"values":[0.9,0.925,0.95,0.975,1,1.025,1.05,1.075],"format":".3f"}},"yError":{"field":"u2"},"yError2":{"field":"l2"}}},
  {"mark":{"type":"errorband","color":"#ff0000","band":{"opacity":0.4},"borders":{"opacity":0.4,"strokeWidth":1}},"encoding":{"y":{"field":"c","type":"quantitative","title":"Normalized CCF","scale":{"domain":[0.88698,1.0783],"nice":false,"zero":false}},"yError":{"field":"u1"},"yError2":{"field":"l1"}}},
  {"mark":{"type":"line","color":"black","strokeWidth":2},"encoding":{"y":{"field":"c","type":"quantitative","title":"Normalized CCF","scale":{"domain":[0.88698,1.0783],"nice":false,"zero":false}}}},
  {"data":{"name":"fit"},"mark":{"type":"line","strokeDash":[6,3],"strokeWidth":2,"opacity":0.8},"encoding":{"y":{"field":"f","type":"quantitative","title":"Normalized CCF","scale":{"domain":[0.88698,1.0783],"nice":false,"zero":false}},"color":{"datum":"Gaussian fit","type":"nominal","scale":{"range":["#1f77b4"]},"legend":{"title":null,"orient":"top-left","symbolType":"M-2,0H2","symbolSize":196,"symbolOffset":7,"symbolStrokeWidth":2,"symbolDash":[6,3],"symbolOpacity":0.8,"labelOffset":18}}}}
 ]
},
{
 "width":1068,"height":235,
 "data":{"name":"r"},
 "encoding":{"x":{"field":"rv","type":"quantitative","title":"RV [km/s]","scale":{"domain":[-1230.3,-569.7],"nice":false,"zero":false},"axis":{"values":[-1200,-1100,-1000,-900,-800,-700,-600],"format":"d"}}},
 "layer":[
  {"mark":{"type":"errorband","color":"#ffa500","band":{"opacity":0.5},"borders":{"opacity":0.5,"strokeWidth":1}},"encoding":{"y":{"field":"m","type":"quantitative","title":"Residuals [to fit]","scale":{"domain":[-0.02088,0.0207],"nice":false,"zero":false},"axis":{"values":[-0.02,-0.01,0,0.01,0.02],"format":".2f"}},"yError":{"field":"u2"},"yError2":{"field":"l2"}}},
  {"mark":{"type":"errorband","color":"#ff0000","band":{"opacity":0.4},"borders":{"opacity":0.4,"strokeWidth":1}},"encoding":{"y":{"field":"m","type":"quantitative","title":"Residuals [to fit]","scale":{"domain":[-0.02088,0.0207],"nice":false,"zero":false}},"yError":{"field":"u1"},"yError2":{"field":"l1"}}},
  {"mark":{"type":"line","color":"#1f77b4","opacity":0.8,"strokeWidth":2.2},"encoding":{"y":{"field":"m","type":"quantitative","title":"Residuals [to fit]","scale":{"domain":[-0.02088,0.0207],"nice":false,"zero":false}}}},
  {"data":{"name":"leg"},"mark":{"type":"point","filled":true,"opacity":0},"encoding":{"fill":{"field":"lab","type":"nominal","scale":{"domain":["2-σ","1-σ","Median residual"],"range":["#ffd27f","#ff9999","#4c92c3"]},"legend":{"title":null,"orient":"top-right","direction":"horizontal","symbolSize":196,"symbolOffset":7,"symbolOpacity":1,"symbolStrokeWidth":0,"labelOffset":19,"columnPadding":28}},"shape":{"field":"lab","type":"nominal","scale":{"domain":["2-σ","1-σ","Median residual"],"range":["M-2,-0.714H2V0.714H-2Z","M-2,-0.714H2V0.714H-2Z","M-2,-0.12H2V0.12H-2Z"]},"legend":{"title":null,"orient":"top-right","direction":"horizontal","symbolSize":196,"symbolOffset":7,"symbolOpacity":1,"symbolStrokeWidth":0,"labelOffset":19,"columnPadding":28}}}}
 ]
},
{
 "width":1068,"height":235,
 "data":{"name":"r"},
 "encoding":{"x":{"field":"rv","type":"quantitative","title":"RV [km/s]","scale":{"domain":[-1230.3,-569.7],"nice":false,"zero":false},"axis":{"values":[-1200,-1100,-1000,-900,-800,-700,-600],"format":"d"}}},
 "layer":[
  {"mark":{"type":"area","color":"#ffa500","fillOpacity":0.5,"stroke":"#ffa500","strokeOpacity":0.5,"strokeWidth":1},"encoding":{"y":{"field":"l2","type":"quantitative","title":"Residuals [To Median]","scale":{"domain":[-0.0174,0.01785],"nice":false,"zero":false},"axis":{"values":[-0.015,-0.01,-0.005,0,0.005,0.01,0.015],"format":".3f"}},"y2":{"field":"u2"}}},
  {"mark":{"type":"area","color":"#ff0000","fillOpacity":0.4,"stroke":"#ff0000","strokeOpacity":0.4,"strokeWidth":1},"encoding":{"y":{"field":"l1","type":"quantitative","title":"Residuals [To Median]","scale":{"domain":[-0.0174,0.01785],"nice":false,"zero":false}},"y2":{"field":"u1"}}},
  {"mark":{"type":"line","color":"#1f77b4","opacity":0.8,"strokeWidth":2},"encoding":{"y":{"datum":0,"type":"quantitative","title":"Residuals [To Median]","scale":{"domain":[-0.0174,0.01785],"nice":false,"zero":false}}}},
  {"data":{"name":"leg"},"mark":{"type":"point","filled":true,"opacity":0},"encoding":{"fill":{"field":"lab","type":"nominal","scale":{"domain":["2-σ","1-σ","Median residual"],"range":["#ffd27f","#ff9999","#4c92c3"]},"legend":{"title":null,"orient":"top-right","direction":"horizontal","symbolSize":196,"symbolOffset":7,"symbolOpacity":1,"symbolStrokeWidth":0,"labelOffset":19,"columnPadding":28}},"shape":{"field":"lab","type":"nominal","scale":{"domain":["2-σ","1-σ","Median residual"],"range":["M-2,-0.714H2V0.714H-2Z","M-2,-0.714H2V0.714H-2Z","M-2,-0.12H2V0.12H-2Z"]},"legend":{"title":null,"orient":"top-right","direction":"horizontal","symbolSize":196,"symbolOffset":7,"symbolOpacity":1,"symbolStrokeWidth":0,"labelOffset":19,"columnPadding":28}}}}
 ]
}
]
}
